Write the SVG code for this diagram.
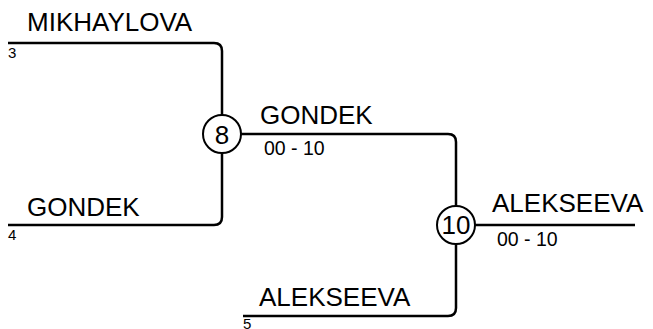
<svg xmlns="http://www.w3.org/2000/svg" width="653" height="329" viewBox="0 0 653 329">
<style>
.ln{fill:none;stroke:#000;stroke-width:2.5}
.cr{fill:#fff;stroke:#000;stroke-width:2}
.nm{font-family:"Liberation Sans",Arial,sans-serif;font-size:26px;fill:#000}
.sc{font-family:"Liberation Sans",Arial,sans-serif;font-size:19.5px;fill:#000}
.sd{font-family:"Liberation Sans",Arial,sans-serif;font-size:15px;fill:#000}
.mn{font-family:"Liberation Sans",Arial,sans-serif;font-size:26px;fill:#000;text-anchor:middle}
</style>
<g id="connectors">
<path class="ln" d="M8 43 H214 Q222 43 222 51 V115"/>
<path class="ln" d="M222 153 V217 Q222 225 214 225 H8"/>
<path class="ln" d="M241 134 H448 Q456 134 456 142 V206"/>
<path class="ln" d="M475 225 H635"/>
<path class="ln" d="M456 244 V308 Q456 316 448 316 H243"/>
</g>
<g id="p-mikhaylova">
<text class="nm" x="27" y="31">MIKHAYLOVA</text>
<text class="sd" x="8" y="58">3</text>
</g>
<g id="p-gondek">
<text class="nm" x="27" y="216">GONDEK</text>
<text class="sd" x="8" y="240">4</text>
</g>
<g id="p-alekseeva">
<text class="nm" x="259" y="306">ALEKSEEVA</text>
<text class="sd" x="243" y="329">5</text>
</g>
<g id="m8">
<circle class="cr" cx="222" cy="134" r="19"/>
<text class="mn" x="222" y="144">8</text>
<text class="nm" x="260" y="124">GONDEK</text>
<text class="sc" x="264" y="155">00 - 10</text>
</g>
<g id="m10">
<circle class="cr" cx="456" cy="225" r="19"/>
<text class="mn" x="456" y="234">10</text>
<text class="nm" x="492" y="212">ALEKSEEVA</text>
<text class="sc" x="497" y="246">00 - 10</text>
</g>
</svg>
